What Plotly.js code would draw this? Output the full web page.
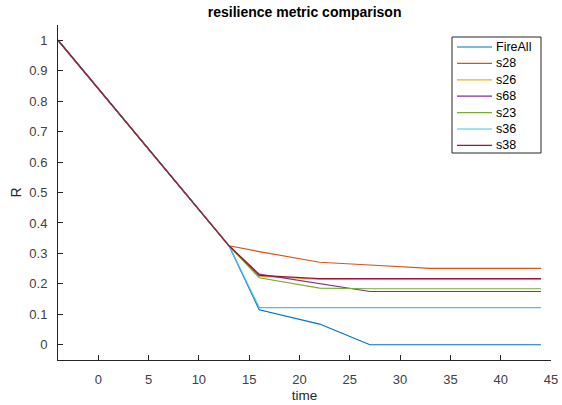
<!DOCTYPE html>
<html>
<head>
<meta charset="utf-8">
<script src="https://cdn.plot.ly/plotly-3.0.1.min.js"></script>
<style>html,body{margin:0;padding:0;background:#fff;}#chart{width:562px;height:405px;}</style>
</head>
<body>
<div id="chart"></div>
<script>
const time = [-4, 13, 16, 22, 27, 33, 44];
const seriesNames = ["FireAll", "s28", "s26", "s68", "s23", "s36", "s38"];
const FireAll = [1, 0.325, 0.115, 0.068, 0, 0, 0];
const s28 = [1, 0.325, 0.306, 0.271, 0.262, 0.251, 0.251];
const s26 = [1, 0.325, 0.225, 0.215, 0.215, 0.215, 0.215];
const s68 = [1, 0.325, 0.232, 0.200, 0.175, 0.175, 0.175];
const s23 = [1, 0.325, 0.220, 0.186, 0.184, 0.184, 0.184];
const s36 = [1, 0.325, 0.122, 0.122, 0.122, 0.122, 0.122];
const s38 = [1, 0.325, 0.228, 0.217, 0.217, 0.217, 0.217];
const seriesValues = [FireAll, s28, s26, s68, s23, s36, s38];
const colors = ["#0072BD", "#D95319", "#EDB120", "#7E2F8E", "#77AC30", "#4DBEEE", "#A2142F"];
const xTicks = [0, 5, 10, 15, 20, 25, 30, 35, 40, 45];
const yTicks = [0, 0.1, 0.2, 0.3, 0.4, 0.5, 0.6, 0.7, 0.8, 0.9, 1];

const FONT = "Liberation Sans, Arial, sans-serif";
const W = 562, H = 405, M = {l: 58, r: 11, t: 25, b: 45};
const PW = W - M.l - M.r, PH = H - M.t - M.b;
const px2x = p => (p - M.l) / PW;
const py2y = p => (H - M.b - p) / PH;

const traces = seriesNames.map((n, i) => ({
  x: time, y: seriesValues[i], name: n, type: "scatter", mode: "lines",
  line: {color: colors[i], width: 1.2}, showlegend: false
}));

// MATLAB-style legend box built from the series names and colours
const legBox = {x0: 452, x1: 541, y0: 37, y1: 153};
const legRow0 = 47, legStep = 16.4;
const shapes = [{
  type: "rect", xref: "paper", yref: "paper",
  x0: px2x(legBox.x0), x1: px2x(legBox.x1), y0: py2y(legBox.y1), y1: py2y(legBox.y0),
  line: {color: "#262626", width: 1}, fillcolor: "#fff", layer: "above"
}];
const annotations = [];
seriesNames.forEach((n, i) => {
  const yy = py2y(legRow0 + i * legStep);
  shapes.push({type: "line", xref: "paper", yref: "paper",
    x0: px2x(457), x1: px2x(492), y0: yy, y1: yy,
    line: {color: colors[i], width: 1.2}, layer: "above"});
  annotations.push({xref: "paper", yref: "paper", x: px2x(494), y: yy,
    xanchor: "left", yanchor: "middle", showarrow: false, text: n,
    font: {family: FONT, size: 12.5, color: "#000"}});
});

const axisCommon = {
  showgrid: false, zeroline: false, showline: true, linecolor: "#262626", linewidth: 1,
  ticks: "inside", ticklen: 5, tickwidth: 1, tickcolor: "#262626",
  tickfont: {family: FONT, size: 13, color: "#404040"}
};

const layout = {
  width: W, height: H,
  margin: M,
  paper_bgcolor: "#fff", plot_bgcolor: "#fff",
  showlegend: false,
  title: {text: "<b>resilience metric comparison</b>", x: 0.542, xanchor: "center", y: 0.97, yanchor: "middle", yref: "container",
    font: {family: FONT, size: 14, color: "#000"}},
  xaxis: Object.assign({}, axisCommon, {
    range: [-4, 45], tickvals: xTicks, ticktext: xTicks.map(String), ticklabelstandoff: 7,
    title: {text: "time", standoff: 4, font: {family: FONT, size: 13.5, color: "#262626"}}
  }),
  yaxis: Object.assign({}, axisCommon, {
    range: [-0.05, 1.05], tickvals: yTicks, ticktext: yTicks.map(String), ticklabelstandoff: 7,
    title: {text: "R", standoff: 4, font: {family: FONT, size: 14, color: "#262626"}}
  }),
  shapes: shapes,
  annotations: annotations
};

Plotly.newPlot("chart", traces, layout, {displayModeBar: false, staticPlot: true});
</script>
</body>
</html>
